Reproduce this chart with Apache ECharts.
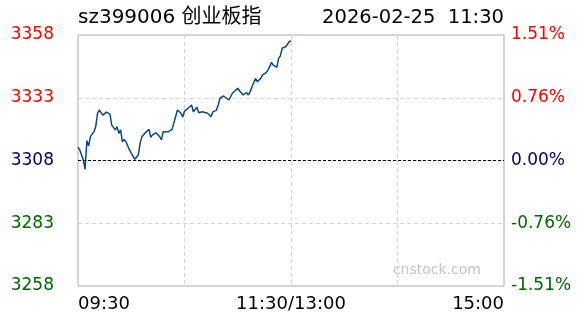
<!DOCTYPE html>
<html>
<head>
<meta charset="utf-8">
<script src="https://cdn.jsdelivr.net/npm/echarts@6/dist/echarts.min.js"></script>
<style>
html,body{margin:0;padding:0;background:#fff;}
#chart{width:588px;height:324px;}
</style>
</head>
<body>
<div id="chart"></div>
<script>
// ---- data ----
var titleText = 'sz399006 创业板指';
var dateText = '2026-02-25  11:30';
var prevClose = 3308;
var priceTicks = [3258, 3283, 3308, 3333, 3358];
var pctTicks = ['-1.51%', '-0.76%', '0.00%', '0.76%', '1.51%'];
var timeLabels = ['09:30', '11:30/13:00', '15:00'];
// minute index since 09:30 (0..240, lunch break removed)
var minutes = [0,1,3,4,5,6,7,9,10,11,12,14,15,16,18,19,20,21,22,23,24,25,26,27,29,30,31,32,34,35,36,38,39,40,41,42,43,44,46,47,48,49,51,52,53,55,56,58,59,60,62,63,64,65,67,68,70,71,73,75,76,78,79,80,82,83,85,86,87,88,90,91,92,93,95,96,97,98,100,101,103,104,106,107,108,109,110,112,113,114,115,116,117,118,119,120];
var prices = [3313.3,3312.2,3308.2,3304.5,3315.9,3313.8,3317.5,3319.5,3321.5,3326.8,3328.1,3326.1,3325.5,3327.3,3326.5,3322.1,3322.8,3320.2,3321.5,3318.8,3320.2,3315.5,3316.4,3315.5,3312.2,3310.9,3311.5,3308.5,3310.2,3314.9,3317.5,3319.1,3319.1,3320.4,3317.2,3318.2,3317.5,3319.1,3317.5,3316.2,3319.5,3318.8,3319.5,3319.1,3320.4,3325.5,3328.1,3326.8,3325.3,3327.7,3328.8,3329.2,3330.1,3327.4,3329.2,3327.0,3327.4,3327.0,3326.8,3325.5,3327.4,3328.1,3330.1,3332.8,3333.7,3334.1,3332.1,3331.4,3334.8,3335.4,3336.8,3335.8,3335.4,3334.1,3335.0,3334.1,3335.4,3337.4,3340.7,3339.4,3340.7,3342.1,3343.0,3344.1,3345.4,3347.1,3346.0,3345.1,3348.7,3349.6,3352.7,3353.1,3353.3,3353.6,3355.3,3355.7];

var labelFont = 'DejaVu Sans, Verdana, sans-serif';
var halfRange = priceTicks[4] - prevClose; // 50
var step = priceTicks[1] - priceTicks[0];   // 25

function tickIndex(v){ return Math.round((v + halfRange) / step); }
function colorFor(v){ return v > 0 ? '#ff0000' : (v < 0 ? '#006600' : '#000066'); }

var lineData = minutes.map(function(m, i){ return [m, +(prices[i] - prevClose).toFixed(2)]; });

var chart = echarts.init(document.getElementById('chart'), null, {renderer: 'canvas'});
chart.setOption({
  animation: false,
  backgroundColor: '#fff',
  grid: {left: 78, right: 84, top: 35, bottom: 38, show: true, borderColor: '#aaaaaa', borderWidth: 1, backgroundColor: 'transparent'},
  graphic: [
    {type: 'text', left: 78, top: 8, style: {text: titleText, font: '20px ' + labelFont + ', "Noto Sans CJK SC"', fill: '#000'}},
    {type: 'text', right: 84, top: 8, style: {text: dateText, font: '19.5px ' + labelFont, fill: '#000', textAlign: 'right'}},
    {type: 'text', right: 107, top: 263, style: {text: 'cnstock.com', font: '14px ' + labelFont, fill: '#c4c4c4', textAlign: 'right'}}
  ],
  xAxis: {
    type: 'value', min: 0, max: 240, interval: 60,
    axisLine: {show: false}, axisTick: {show: false},
    splitLine: {show: true, lineStyle: {color: '#d4d4d4', type: [4, 3], width: 1}},
    axisLabel: {
      margin: 9, color: '#000', fontFamily: labelFont, fontSize: 18,
      alignMinLabel: 'left', alignMaxLabel: 'right',
      formatter: function(v){ return v === 0 ? timeLabels[0] : (v === 120 ? timeLabels[1] : (v === 240 ? timeLabels[2] : '')); }
    }
  },
  yAxis: [
    {
      type: 'value', min: -halfRange, max: halfRange, interval: step, position: 'left',
      axisLine: {show: false}, axisTick: {show: false},
      splitLine: {show: true, lineStyle: {color: '#d4d4d4', type: [4, 3], width: 1}},
      axisLabel: {margin: 24, fontFamily: labelFont, fontSize: 17,
        color: function(v){ return colorFor(+v); },
        formatter: function(v){ return String(priceTicks[tickIndex(v)]); }}
    },
    {
      type: 'value', min: -halfRange, max: halfRange, interval: step, position: 'right',
      axisLine: {show: false}, axisTick: {show: false}, splitLine: {show: false},
      axisLabel: {margin: 7, fontFamily: labelFont, fontSize: 17,
        color: function(v){ return colorFor(+v); },
        formatter: function(v){ return pctTicks[tickIndex(v)]; }}
    }
  ],
  series: [{
    type: 'line', data: lineData, showSymbol: false, symbol: 'none',
    lineStyle: {color: '#0d4a7a', width: 1.5},
    markLine: {
      silent: true, symbol: 'none', label: {show: false},
      lineStyle: {color: '#000', type: [3, 2], width: 1},
      data: [{yAxis: 0}]
    },
    z: 3
  }]
});
</script>
</body>
</html>
